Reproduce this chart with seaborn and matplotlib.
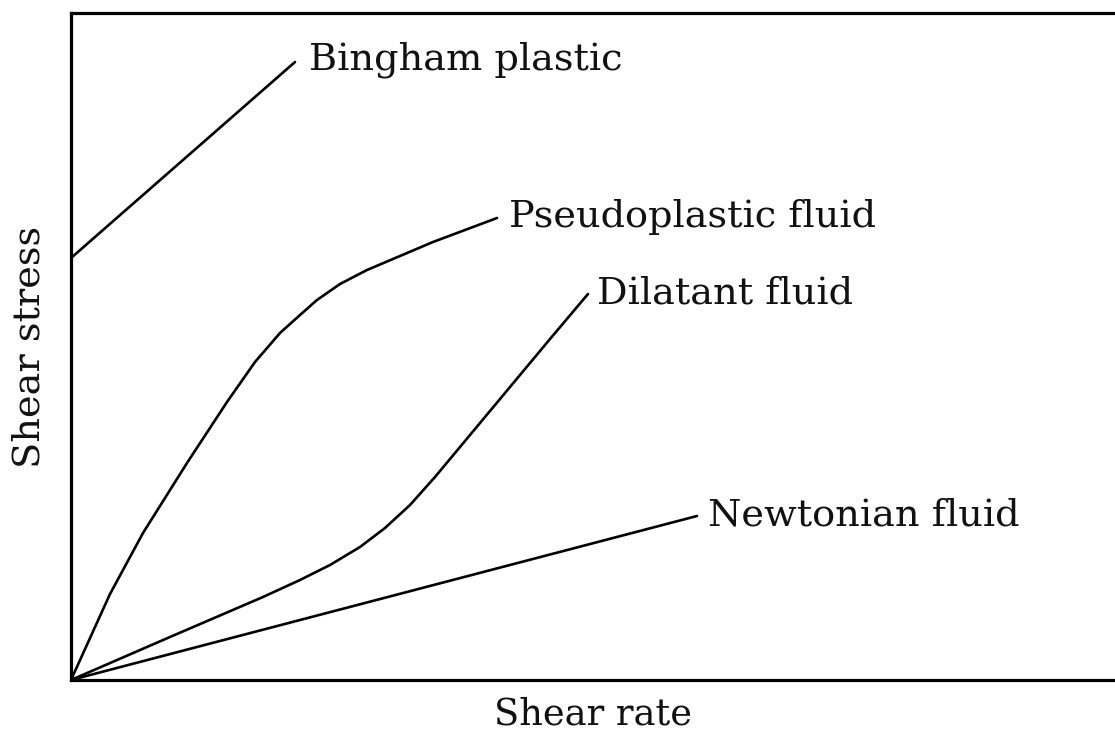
import numpy as np
import pandas as pd
import matplotlib
matplotlib.use('Agg')
import matplotlib.pyplot as plt
import seaborn as sns

# curve shapes (shear rate vs shear stress, arbitrary units)
bingham_x = [0.0, 2.24]
bingham_y = [4.22, 6.18]

pseudo_x = [0.0, 0.39, 0.72, 1.16, 1.56, 1.84, 2.09, 2.29, 2.46, 2.69, 2.96, 3.29, 3.62, 3.94, 4.26]
pseudo_y = [0.0, 0.86, 1.47, 2.17, 2.78, 3.18, 3.47, 3.65, 3.80, 3.96, 4.10, 4.24, 4.38, 4.50, 4.62]

dilatant_x = [0.0, 0.99, 1.92, 2.29, 2.59, 2.89, 3.14, 3.39, 3.64, 3.89, 4.29, 4.79, 5.17]
dilatant_y = [0.0, 0.43, 0.83, 1.00, 1.15, 1.33, 1.52, 1.75, 2.03, 2.33, 2.81, 3.41, 3.86]

newton_x = [0.0, 6.26]
newton_y = [0.0, 1.64]

curve_names = ['Bingham plastic', 'Pseudoplastic fluid', 'Dilatant fluid', 'Newtonian fluid']
curves = [(bingham_x, bingham_y), (pseudo_x, pseudo_y), (dilatant_x, dilatant_y), (newton_x, newton_y)]
# label offsets from the line end, in pixels
label_offsets = [(14, -7), (12, -9), (9, -9), (11, -10)]

sns.set_style('white')
plt.rcParams['font.family'] = ['DejaVu Serif']

fig = plt.figure(figsize=(11.15, 7.34), dpi=100)
ax = fig.add_axes([71 / 1115, 54 / 734, 1 - 71 / 1115, (680 - 13) / 734])

for (xs, ys), name, off in zip(curves, curve_names, label_offsets):
    sns.lineplot(x=xs, y=ys, color='black', linewidth=1.9, sort=False, ax=ax,
                 solid_joinstyle='round', solid_capstyle='round')
    ax.annotate(name, xy=(xs[-1], ys[-1]), xytext=off, textcoords='offset pixels',
                ha='left', va='baseline', fontsize=27.5, color='#111111')

ax.set_xlim(0, 10.44)
ax.set_ylim(0, 6.67)
ax.set_xticks([])
ax.set_yticks([])

for side in ['left', 'top', 'bottom']:
    ax.spines[side].set_linewidth(2.3)
    ax.spines[side].set_color('black')
ax.spines['right'].set_visible(False)

ax.set_xlabel('Shear rate', fontsize=26.5, labelpad=12, color='#111111')
ax.set_ylabel('Shear stress', fontsize=27.5, labelpad=17, color='#111111')

plt.savefig('out.png', dpi=100)
plt.close(fig)
